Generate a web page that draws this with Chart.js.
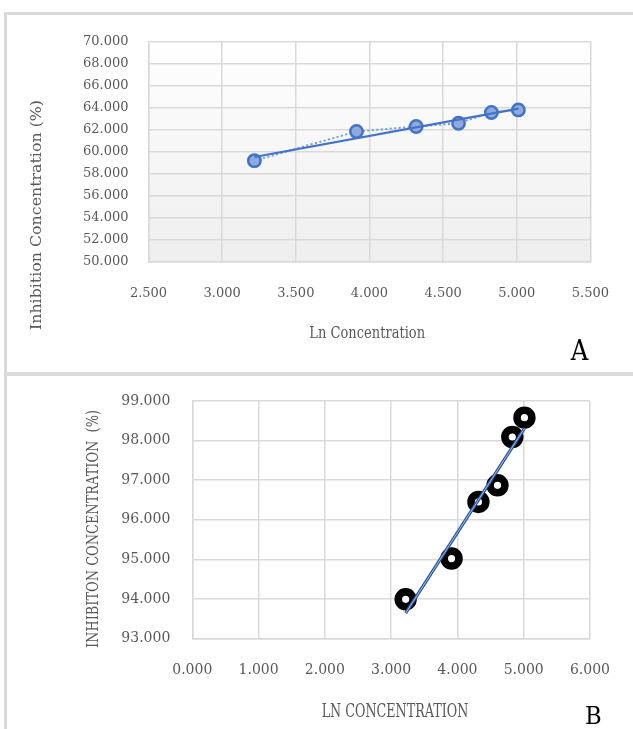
<!DOCTYPE html>
<html>
<head>
<meta charset="utf-8">
<script src="https://cdn.jsdelivr.net/npm/chart.js@4.4.1/dist/chart.umd.min.js"></script>
<style>
  body { margin: 0; background: #fff; }
  .wrap { position: relative; width: 633px; height: 729px; overflow: hidden; }
  .wrap canvas { position: absolute; left: 0; top: 0; }
  .rule { position: absolute; background: #dadada; }
</style>
</head>
<body>
<div class="wrap">
  <div class="rule" style="left:4px; top:12px; width:640px; height:2.5px;"></div>
  <div class="rule" style="left:4px; top:372px; width:640px; height:4px;"></div>
  <div class="rule" style="left:4px; top:12px; width:2.5px; height:717px;"></div>
  <canvas id="chartA" width="633" height="729"></canvas>
  <canvas id="chartB" width="633" height="729"></canvas>
</div>
<script>
// ── DATA ──────────────────────────────────────────────
const lnConc   = [3.219, 3.912, 4.317, 4.605, 4.828, 5.011];
const inhibA   = [59.17, 61.82, 62.27, 62.57, 63.55, 63.78];
const inhibB   = [93.99, 95.02, 96.45, 96.87, 98.09, 98.58];

// trendline ends
const trendX   = [3.219, 5.011];
const trendAy  = [59.5, 63.9];
const trendBy  = [93.64, 98.31];

const xTicksA  = [2.5, 3.0, 3.5, 4.0, 4.5, 5.0, 5.5];
const yTicksA  = [50, 52, 54, 56, 58, 60, 62, 64, 66, 68, 70];
const xTicksB  = [0, 1, 2, 3, 4, 5, 6];
const yTicksB  = [93, 94, 95, 96, 97, 98, 99];

// ── HELPERS ───────────────────────────────────────────
const FONT = '"DejaVu Serif", serif';
const GRID = "#d9d9d9";
const TXT  = "#595959";

const pts = (xs, ys) => xs.map((x, i) => ({ x, y: ys[i] }));
const fmt = v => Number(v).toFixed(3);

function axis(ticks, size, pad, fit) {
  return {
    type: "linear",
    min: ticks[0],
    max: ticks[ticks.length - 1],
    afterBuildTicks: s => { s.ticks = ticks.map(v => ({ value: v })); },
    afterFit: fit,
    grid:   { color: GRID, lineWidth: 1.5, drawTicks: false },
    border: { color: GRID, width: 1.5 },
    ticks:  { color: TXT, font: { family: FONT, size }, padding: pad, callback: fmt }
  };
}

// text drawn at fixed spots, squeezed to the width seen in the picture
const labelsPlugin = {
  id: "labels",
  afterDraw(chart, args, opts) {
    const ctx = chart.ctx;
    (opts.items || []).forEach(t => {
      ctx.save();
      ctx.translate(t.x, t.y);
      ctx.rotate(t.rot || 0);
      ctx.font = t.size + "px " + FONT;
      const w = ctx.measureText(t.text).width;
      ctx.scale(t.width / w, 1);
      ctx.fillStyle = t.color || TXT;
      ctx.textAlign = "center";
      ctx.textBaseline = "alphabetic";
      ctx.fillText(t.text, 0, 0);
      ctx.restore();
    });
  }
};

// plot area fill (Chart A has the white → grey wash)
const bgPlugin = {
  id: "plotBg",
  beforeDraw(chart, args, opts) {
    if (!opts.gradient) return;
    const { ctx, chartArea: a } = chart;
    const g = ctx.createLinearGradient(0, a.top, 0, a.bottom);
    g.addColorStop(0, "#ffffff");
    g.addColorStop(1, "#eeeeee");
    ctx.save();
    ctx.fillStyle = g;
    ctx.fillRect(a.left, a.top, a.right - a.left, a.bottom - a.top);
    ctx.restore();
  }
};

// ── CHART A ───────────────────────────────────────────
new Chart(document.getElementById("chartA"), {
  type: "scatter",
  plugins: [bgPlugin, labelsPlugin],
  data: {
    datasets: [{
      label: "Linear trend",
      data: pts(trendX, trendAy),
      showLine: true,
      borderColor: "#4472c4",
      borderWidth: 2.25,
      pointRadius: 0,
      order: 0
    }, {
      label: "Inhibition",
      data: pts(lnConc, inhibA),
      showLine: true,
      borderColor: "#6f9bd6",
      borderWidth: 2,
      borderDash: [2, 2.5],
      pointRadius: 6.2,
      pointBackgroundColor: "#8faadc",
      pointBorderColor: "#4472c4",
      pointBorderWidth: 2.5,
      order: 1
    }]
  },
  options: {
    responsive: false,
    animation: false,
    devicePixelRatio: 1,
    layout: { padding: { top: 41.5, right: 36.5, left: 0, bottom: 0 } },
    plugins: {
      legend: { display: false },
      tooltip: { enabled: false },
      plotBg: { gradient: true },
      labels: { items: [
        { text: "Inhibition Concentration (%)", x: 40.7, y: 215, rot: -Math.PI / 2, size: 15, width: 230 },
        { text: "Ln Concentration", x: 367.2, y: 338.3, size: 16.9, width: 115.7 },
        { text: "A", x: 579.5, y: 360, size: 28.4, width: 17.6, color: "#000" }
      ] }
    },
    scales: {
      x: axis(xTicksA, 13, 24, s => { s.height = 729 - 261.5; }),
      y: axis(yTicksA, 13, 20, s => { s.width = 148.5; })
    }
  }
});

// ── CHART B ───────────────────────────────────────────
new Chart(document.getElementById("chartB"), {
  type: "scatter",
  plugins: [bgPlugin, labelsPlugin],
  data: {
    datasets: [{
      label: "Trend core",
      data: pts(trendX, trendBy),
      showLine: true,
      borderColor: "#a9c8ea",
      borderWidth: 0.9,
      pointRadius: 0,
      order: 0
    }, {
      label: "Linear trend",
      data: pts(trendX, trendBy),
      showLine: true,
      borderColor: "#2f5597",
      borderWidth: 3.2,
      pointRadius: 0,
      order: 1
    }, {
      label: "Inhibition",
      data: pts(lnConc, inhibB),
      showLine: false,
      pointRadius: 7.4,
      pointBackgroundColor: "#ffffff",
      pointBorderColor: "#000000",
      pointBorderWidth: 7.6,
      order: 2
    }]
  },
  options: {
    responsive: false,
    animation: false,
    devicePixelRatio: 1,
    layout: { padding: { top: 401, right: 35.3, left: 0, bottom: 0 } },
    plugins: {
      legend: { display: false },
      tooltip: { enabled: false },
      labels: { items: [
        { text: "INHIBITON CONCENTRATION  (%)", x: 97.5, y: 529, rot: -Math.PI / 2, size: 17.4, width: 238 },
        { text: "LN CONCENTRATION", x: 395, y: 716.7, size: 17.8, width: 146.7 },
        { text: "B", x: 593.3, y: 724, size: 24.7, width: 16.7, color: "#000" }
      ] }
    },
    scales: {
      x: axis(xTicksB, 14, 23, s => { s.height = 729 - 638.5; }),
      y: axis(yTicksB, 14, 22, s => { s.width = 192.3; })
    }
  }
});
</script>
</body>
</html>
